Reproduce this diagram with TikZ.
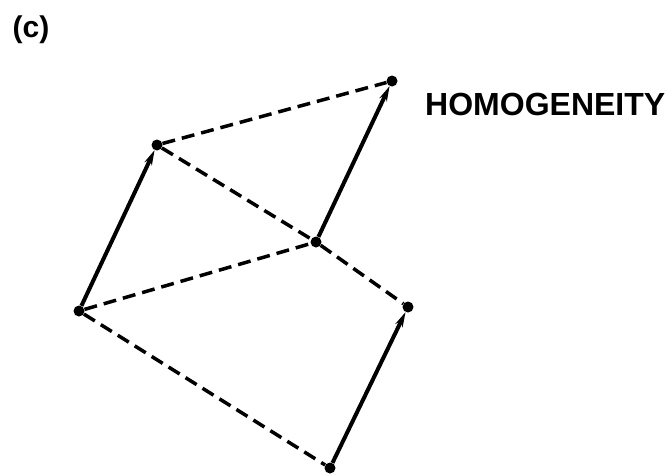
\documentclass[tikz,border=0pt]{standalone}
\usepackage{fontspec}
\setmainfont{Liberation Sans}
\usetikzlibrary{arrows.meta}

\begin{document}
\begin{tikzpicture}[
    x=1pt, y=-1pt,
    dot/.style={circle, fill, inner sep=0pt, minimum size=11pt},
    vec/.style={-{Stealth[length=15pt, width=8pt]}, line width=4pt},
    link/.style={dash pattern=on 13pt off 7pt, line width=3.5pt},
    lbl/.style={inner sep=0pt, font=\fontsize{32}{38}\selectfont\bfseries}
]
\useasboundingbox (0,0) rectangle (668,474);

% labels
\node[lbl, font=\fontsize{30}{36}\selectfont\bfseries] (tag) at (31,30) {(c)};
\node[lbl, anchor=west] (name) at (425,104) {HOMOGENEITY};

% points
\node[dot] (a) at (79,311) {};
\node[dot] (b) at (157,145) {};
\node[dot] (c) at (392,81) {};
\node[dot] (d) at (316,242) {};
\node[dot] (e) at (408,307) {};
\node[dot] (f) at (330,468) {};

% dashed links
\draw[link] (b) -- (c);
\draw[link] (b) -- (d);
\draw[link] (a) -- (d);
\draw[link] (d) -- (e);
\draw[link] (a) -- (f);

% vectors
\draw[vec] (a) -- (b);
\draw[vec] (d) -- (c);
\draw[vec] (f) -- (e);
\end{tikzpicture}
\end{document}
